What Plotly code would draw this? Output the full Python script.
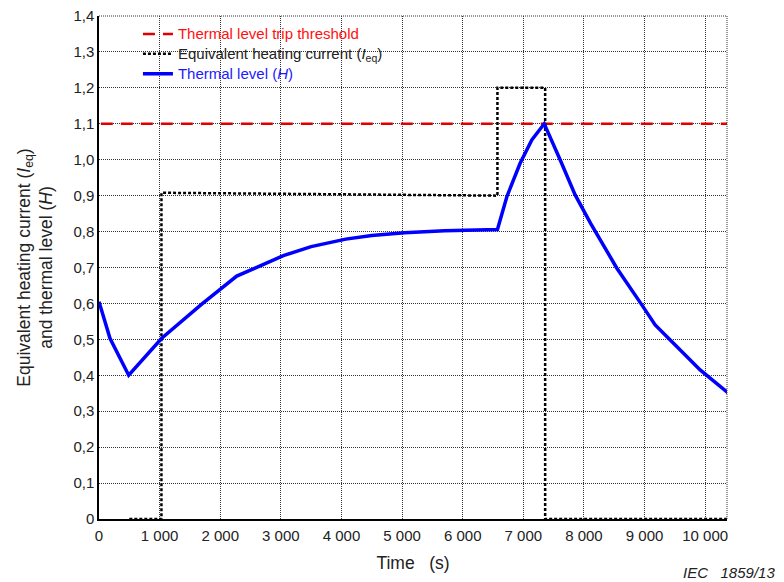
import plotly.graph_objects as go

# Thermal level H (per-unit) over time (s)
time_h = [0, 99, 181, 490, 1035, 1695, 2025, 2272, 2574, 3041, 3500,
          4071, 4500, 5038, 5700, 6452, 6573, 6728, 6947, 7140, 7345,
          7607, 7855, 8110, 8543, 8955, 9175, 9477, 9917, 10384]
thermal = [0.605, 0.549, 0.503, 0.40, 0.503, 0.598, 0.643, 0.676, 0.698,
           0.733, 0.758, 0.779, 0.789, 0.797, 0.802, 0.806, 0.806, 0.897,
           0.99, 1.055, 1.10, 1.0, 0.902, 0.823, 0.698, 0.596, 0.54, 0.489,
           0.415, 0.35]

# Equivalent heating current Ieq (step profile)
time_i = [500, 1030, 1030, 6573, 6573, 7360, 7360, 10360]
current = [0.0, 0.0, 0.908, 0.90, 1.20, 1.20, 0.0, 0.0]

# Trip threshold
time_trip = [30, 10360]
trip = [1.1, 1.1]

x_ticks = [0, 1000, 2000, 3000, 4000, 5000, 6000, 7000, 8000, 9000, 10000]
x_labels = ["0", "1 000", "2 000", "3 000", "4 000", "5 000", "6 000",
            "7 000", "8 000", "9 000", "10 000"]
y_ticks = [0, 0.1, 0.2, 0.3, 0.4, 0.5, 0.6, 0.7, 0.8, 0.9, 1.0, 1.1, 1.2, 1.3, 1.4]
y_labels = ["0", "0,1", "0,2", "0,3", "0,4", "0,5", "0,6", "0,7", "0,8",
            "0,9", "1,0", "1,1", "1,2", "1,3", "1,4"]


def legend_label(text, color):
    return f"<span style='font-size:15px;color:{color}'>{text}</span>"


fig = go.Figure()
fig.add_trace(go.Scatter(
    x=time_trip, y=trip, mode="lines",
    name=legend_label("Thermal level trip threshold", "#ff1010"),
    line=dict(color="#e00000", width=2.5, dash="12px,8px"),
))
fig.add_trace(go.Scatter(
    x=time_i, y=current, mode="lines",
    name=legend_label("Equivalent heating current (<i>I</i><sub>eq</sub>)", "#222222"),
    line=dict(color="#000000", width=2.5, dash="3px,2px"),
))
fig.add_trace(go.Scatter(
    x=time_h, y=thermal, mode="lines",
    name=legend_label("Thermal level (<i>H</i>)", "#1a1aff"),
    line=dict(color="#0000ff", width=3.5),
))

grid = dict(showgrid=True, gridcolor="#333333", gridwidth=1, griddash="1px,1px")

fig.update_layout(
    width=784, height=582,
    margin=dict(l=99, r=57, t=16, b=63),
    paper_bgcolor="white", plot_bgcolor="white",
    font=dict(family="Liberation Sans, Arial, sans-serif", size=15, color="#222222"),
    showlegend=True,
    legend=dict(x=0.062, y=0.994, xanchor="left", yanchor="top",
                bgcolor="rgba(255,255,255,0)", borderwidth=0,
                font=dict(size=13, color="#222222"), tracegroupgap=0),
    xaxis=dict(range=[0, 10360], tickvals=x_ticks, ticktext=x_labels,
               showline=True, linecolor="black", linewidth=1.5,
               ticks="", zeroline=False, ticklabelstandoff=2, automargin=False,
               title=dict(text="Time   (s)", font=dict(size=17.5), standoff=14),
               **grid),
    yaxis=dict(range=[0, 1.4], tickvals=y_ticks, ticktext=y_labels,
               showline=True, linecolor="black", linewidth=1.5,
               ticks="", zeroline=False, automargin=False,
               title=dict(text="Equivalent heating current (<i>I</i><sub>eq</sub>)<br>and thermal level (<i>H</i>)",
                          font=dict(size=17.5), standoff=16),
               **grid),
    shapes=[
        # dotted frame on the top and right edges
        dict(type="line", xref="paper", yref="paper", x0=0, x1=1, y0=1, y1=1,
             line=dict(color="#333333", width=1, dash="1px,1px")),
        dict(type="line", xref="paper", yref="paper", x0=1, x1=1, y0=0, y1=1,
             line=dict(color="#333333", width=1, dash="1px,1px")),
    ],
    annotations=[
        dict(text="<i>IEC   1859/13</i>", xref="paper", yref="paper",
             x=1.08, y=-0.107, xanchor="right", yanchor="middle",
             showarrow=False, font=dict(size=15, color="#222222")),
    ],
)

fig.write_html("out.html")
